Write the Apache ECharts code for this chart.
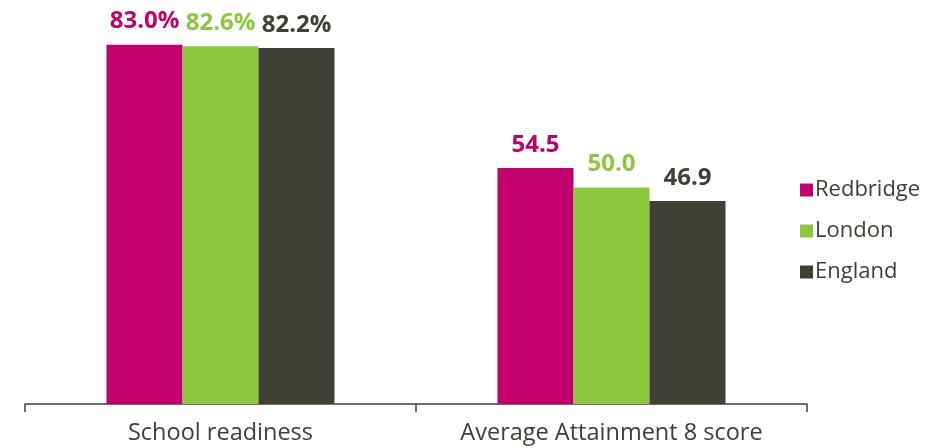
<!DOCTYPE html>
<html>
<head>
<meta charset="utf-8">
<script src="https://cdn.jsdelivr.net/npm/echarts@6/dist/echarts.min.js"></script>
<style>
  html, body { margin: 0; padding: 0; background: #fff; }
  #chart { width: 941px; height: 448px; }
</style>
</head>
<body>
<div id="chart"></div>
<script>
// Indicators compared across areas
const categories = ['School readiness', 'Average Attainment 8 score'];
const seriesNames = ['Redbridge', 'London', 'England'];
const redbridge = [83.0, 54.5];
const london = [82.6, 50.0];
const england = [82.2, 46.9];
// Value label formats per category (percentage vs. score)
const labelSuffix = ['%', ''];

const colors = ['#C1006E', '#8DC63F', '#404035'];
const values = [redbridge, london, england];
const FONT = '"Open Sans", "Noto Sans", sans-serif';

const chart = echarts.init(document.getElementById('chart'));
chart.setOption({
  animation: false,
  textStyle: { fontFamily: FONT },
  grid: { left: 25, right: 134, top: 10, bottom: 44, containLabel: false },
  legend: {
    orient: 'vertical',
    left: 795,
    top: 172,
    itemWidth: 13,
    itemHeight: 13,
    itemGap: 15,
    icon: 'rect',
    textStyle: { fontSize: 22, color: '#404035', fontFamily: FONT, lineHeight: 26, padding: [0, 0, 0, -3] },
    data: seriesNames
  },
  xAxis: {
    type: 'category',
    data: categories,
    axisLine: { show: true, lineStyle: { color: '#404035', width: 1.5 } },
    axisTick: { show: true, interval: 0, length: 8, lineStyle: { color: '#404035', width: 1.5 } },
    axisLabel: { interval: 0, hideOverlap: false, fontSize: 23.5, color: '#404035', margin: 17, fontFamily: FONT }
  },
  yAxis: {
    type: 'value',
    min: 0,
    max: 91,
    show: false,
    splitLine: { show: false }
  },
  series: seriesNames.map((name, i) => ({
    name: name,
    type: 'bar',
    barWidth: 76,
    barGap: '0%',
    itemStyle: { color: colors[i] },
    data: values[i],
    label: {
      show: true,
      position: 'top',
      distance: 11,
      color: colors[i],
      fontSize: 24,
      fontWeight: 'bold',
      fontFamily: FONT,
      formatter: p => p.value.toFixed(1) + labelSuffix[p.dataIndex]
    }
  }))
});
</script>
</body>
</html>
